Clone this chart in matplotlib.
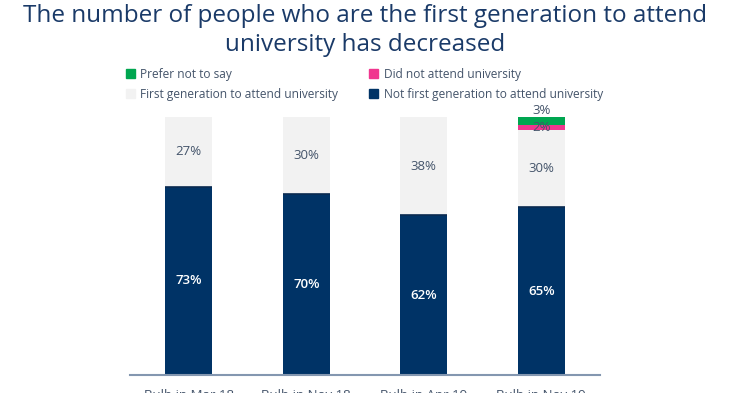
import numpy as np
import matplotlib.pyplot as plt
from matplotlib.patches import Patch

plt.rcParams['font.family'] = ['Open Sans', 'DejaVu Sans']

# data
waves = ["Bulb in Mar 18", "Bulb in Nov 18", "Bulb in Apr 19", "Bulb in Nov 19"]
not_first = [73, 70, 62, 65]
first_gen = [27, 30, 38, 30]
did_not = [0, 0, 0, 2]
prefer_not = [0, 0, 0, 3]

navy = "#003366"
light = "#f2f2f2"
pink = "#f0368f"
green = "#00a650"
text_col = "#44546a"
title_col = "#1a3a68"

fig = plt.figure(figsize=(7.3, 3.93), dpi=100)
ax = fig.add_axes([130 / 730, 18 / 393, 470 / 730, 258 / 393])

x = np.arange(len(waves))
w = 0.4
ax.bar(x, not_first, w, color=navy, edgecolor="none")
ax.bar(x, first_gen, w, bottom=not_first, color=light, edgecolor="none")
base3 = np.array(not_first) + np.array(first_gen)
ax.bar(x, did_not, w, bottom=base3, color=pink, edgecolor="none")
base4 = base3 + np.array(did_not)
ax.bar(x, prefer_not, w, bottom=base4, color=green, edgecolor="none")

# thin dark line at top of navy segment
ax.hlines(not_first, x - w / 2, x + w / 2, color="#0a2a50", lw=1.2)

for i in range(len(waves)):
    ax.text(x[i], not_first[i] / 2, f"{not_first[i]}%", ha="center", va="center",
            color="white", fontsize=9.5, fontweight="semibold")
    ax.text(x[i], not_first[i] + first_gen[i] / 2, f"{first_gen[i]}%", ha="center",
            va="center", color=text_col, fontsize=9.5)
    if did_not[i]:
        ax.text(x[i], base3[i] + did_not[i] / 2, f"{did_not[i]}%", ha="center",
                va="center", color=text_col, fontsize=9.5)
    if prefer_not[i]:
        ax.annotate(f"{prefer_not[i]}%", (x[i], base4[i] + prefer_not[i]),
                    xytext=(0, 0), textcoords="offset points", ha="center",
                    va="bottom", color=text_col, fontsize=9.5, annotation_clip=False)

ax.set_xlim(-0.5, 3.5)
ax.set_ylim(0, 100)
ax.set_yticks([])
ax.set_xticks(x)
ax.set_xticklabels(waves, color=text_col, fontsize=9.5)
ax.tick_params(axis="x", length=0, pad=10)
for s in ["top", "right", "left"]:
    ax.spines[s].set_visible(False)
ax.spines["bottom"].set_color("#8497b0")
ax.spines["bottom"].set_linewidth(1.5)

handles = [Patch(color=green), Patch(color=light),
           Patch(color=pink), Patch(color=navy)]
labels = ["Prefer not to say", "First generation to attend university",
          "Did not attend university", "Not first generation to attend university"]
fig.legend(handles, labels, ncol=2, loc="upper left", bbox_to_anchor=(126 / 730, 1 - 68 / 393),
           frameon=False, fontsize=8.6, labelcolor=text_col, handlelength=0.75,
           handleheight=0.75, handletextpad=0.45, columnspacing=2.6, labelspacing=0.55,
           borderaxespad=0, borderpad=0)

fig.text(0.5, 1 - 4 / 393, "The number of people who are the first generation to attend\nuniversity has decreased",
         ha="center", va="top", fontsize=17.5, color=title_col, linespacing=1.3)

fig.savefig("out.png", dpi=100)
